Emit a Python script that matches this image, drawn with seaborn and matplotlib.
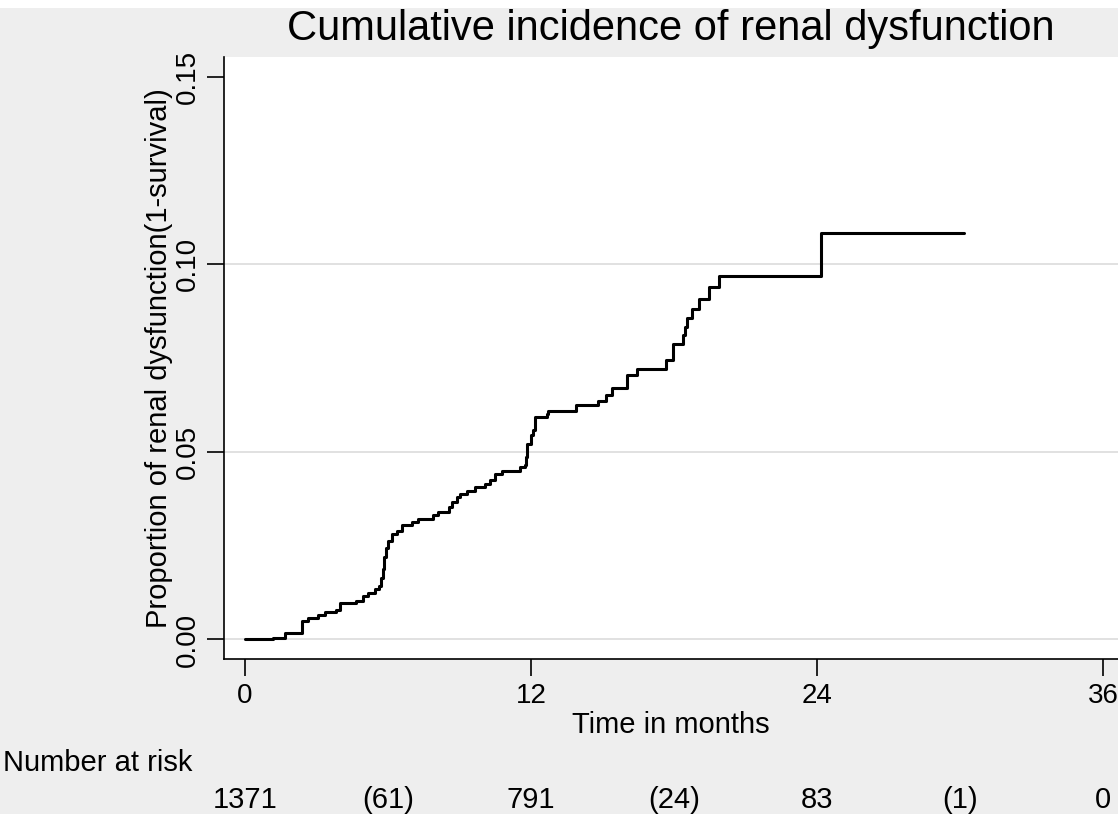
import matplotlib
matplotlib.use('Agg')
import matplotlib.pyplot as plt
from matplotlib.patches import Rectangle
from matplotlib.transforms import blended_transform_factory
import pandas as pd
import seaborn as sns

# step times (months) and cumulative incidence
months = [0.0, 1.16, 1.68, 2.38, 2.64, 3.06, 3.36, 3.82, 3.99, 4.66, 4.97, 5.18, 5.46,
          5.62, 5.69, 5.78, 5.83, 5.90, 6.01, 6.15, 6.36, 6.57, 6.99, 7.27, 7.90, 8.11,
          8.57, 8.67, 8.88, 9.02, 9.30, 9.65, 10.07, 10.28, 10.49, 10.77, 11.55, 11.75,
          11.79, 11.85, 11.99, 12.10, 12.17, 12.66, 12.73, 13.89, 14.83, 15.15, 15.39,
          16.04, 16.44, 17.65, 17.97, 18.39, 18.46, 18.56, 18.74, 19.05, 19.47, 19.89,
          24.16, 30.17]
incidence = [0.0, 0.0005, 0.0018, 0.0049, 0.0058, 0.0065, 0.0072, 0.0078, 0.0097, 0.0103,
             0.0116, 0.0125, 0.0134, 0.0143, 0.0165, 0.0187, 0.0219, 0.0245, 0.0263, 0.0281,
             0.0290, 0.0306, 0.0312, 0.0321, 0.0333, 0.0341, 0.0352, 0.0366, 0.0379, 0.0388,
             0.0395, 0.0406, 0.0415, 0.0425, 0.0440, 0.0448, 0.0460, 0.0466, 0.0486, 0.0521,
             0.0544, 0.0559, 0.0594, 0.0602, 0.0609, 0.0624, 0.0637, 0.0651, 0.0671, 0.0704,
             0.0722, 0.0744, 0.0789, 0.0811, 0.0833, 0.0858, 0.0882, 0.0909, 0.0940, 0.0969,
             0.1084, 0.1084]

xticks = [0, 12, 24, 36]
yticks = [0.00, 0.05, 0.10, 0.15]
ytick_labels = ['0.00', '0.05', '0.10', '0.15']

risk_months = [0, 6, 12, 18, 24, 30, 36]
risk_labels = ['1371', '(61)', '791', '(24)', '83', '(1)', '0']

BG = '#eeeeee'

sns.set_style('white')
plt.rcParams['font.family'] = ['Liberation Sans', 'DejaVu Sans']
plt.rcParams['text.color'] = 'black'
plt.rcParams['axes.labelcolor'] = 'black'
plt.rcParams['xtick.color'] = 'black'
plt.rcParams['ytick.color'] = 'black'

df = pd.DataFrame({'month': months, 'incidence': incidence})

fig = plt.figure(figsize=(11.18, 8.14), dpi=100, facecolor=BG)
# thin white strip at the very top of the image
fig.patches.append(Rectangle((0, 1 - 8 / 814), 1, 8 / 814, transform=fig.transFigure,
                             facecolor='white', edgecolor='none', zorder=0))

ax = fig.add_axes([224 / 1118, 1 - 659 / 814, 1 - 224 / 1118, (659 - 57) / 814])
ax.set_facecolor('white')

sns.lineplot(data=df, x='month', y='incidence', drawstyle='steps-post', color='black',
             linewidth=2.2, estimator=None, ax=ax)

ax.set_xlim(-0.88, 36.63)
ax.set_ylim(-0.0052, 0.1553)
ax.set_xticks(xticks)
ax.set_xticklabels([str(t) for t in xticks], fontsize=20)
ax.set_yticks(yticks)
ax.set_yticklabels(ytick_labels, fontsize=20, rotation=90, va='center')
ax.tick_params(axis='both', direction='out', length=12, width=1.2, color='black', pad=5,
               left=True, bottom=True)

ax.grid(axis='y', color='#dcdcdc', linewidth=1.2)
ax.yaxis.get_gridlines()[-1].set_visible(False)
ax.set_axisbelow(True)

for side in ['top', 'right']:
    ax.spines[side].set_visible(False)
for side in ['left', 'bottom']:
    ax.spines[side].set_color('black')
    ax.spines[side].set_linewidth(1.2)

ax.set_xlabel('Time in months', fontsize=21, labelpad=2)
ax.set_ylabel('Proportion of renal dysfunction(1-survival)', fontsize=21, labelpad=1)
ax.set_title('Cumulative incidence of renal dysfunction', fontsize=30, pad=12)

# number at risk table below the axis
fig.text(3 / 1118, 1 - 763 / 814, 'Number at risk', fontsize=21, ha='left', va='center')
trans = blended_transform_factory(ax.transData, fig.transFigure)
for m, lab in zip(risk_months, risk_labels):
    ax.text(m, 1 - 800 / 814, lab, fontsize=21, ha='center', va='center',
            transform=trans, clip_on=False)

fig.savefig('out.png', dpi=100, facecolor=BG)
